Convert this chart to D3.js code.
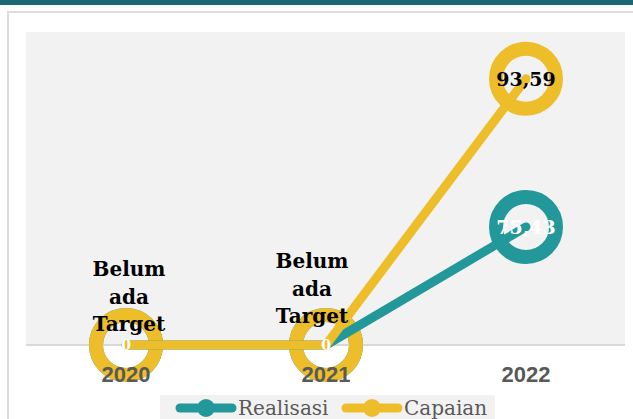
<!DOCTYPE html>
<html>
<head>
<meta charset="utf-8">
<script src="https://cdn.jsdelivr.net/npm/d3@7"></script>
<style>
  html, body { margin: 0; padding: 0; background: #ffffff; }
  svg { display: block; }
</style>
</head>
<body>
<svg id="chart" width="633" height="419"></svg>
<script>
// Chart data
const years = ["2020", "2021", "2022"];
const realisasi = [0, 0, 75.43];
const capaian = [0, 0, 93.59];
const capaianNotes = ["Belum ada Target", "Belum ada Target", null];
const seriesNames = ["Realisasi", "Capaian"];

const teal = "#23989a";
const gold = "#eebd2a";
const grey = "#595959";

const svg = d3.select("#chart");
const fmt = v => d3.format(".2f")(v).replace(".", ",").replace(/,00$/, "");

// Page frame: header strip and card
svg.append("rect").attr("x", 0).attr("y", 0).attr("width", 633).attr("height", 5).attr("fill", "#1a6775");
svg.append("rect").attr("x", 8).attr("y", 12).attr("width", 640).attr("height", 420)
  .attr("fill", "#ffffff").attr("stroke", "#dcdcdc").attr("stroke-width", 2);

// Plot area
const plot = { left: 26, right: 626, top: 32, bottom: 345 };
svg.append("rect").attr("x", plot.left).attr("y", plot.top)
  .attr("width", plot.right - plot.left - 1).attr("height", plot.bottom - plot.top)
  .attr("fill", "#f2f2f2");

const x = d3.scaleBand().domain(years).range([plot.left, plot.right]);
const cx = d => x(d) + x.bandwidth() / 2;
// two value axes (primary for Capaian, secondary for Realisasi)
const yCap = d3.scaleLinear().domain([0, 110]).range([plot.bottom, plot.top]);
const yReal = d3.scaleLinear().domain([0, 200]).range([plot.bottom, plot.top]);

// Category axis line
const xAxis = svg.append("g").attr("transform", `translate(0,${plot.bottom})`)
  .call(d3.axisBottom(x).tickSize(0).tickPadding(0));
xAxis.select(".domain").attr("stroke", "#d9d9d9").attr("stroke-width", 2)
  .attr("d", `M${plot.left},0H${plot.right - 1}`);
xAxis.selectAll(".tick text").remove();

const realPts = years.map((d, i) => [cx(d), yReal(realisasi[i])]);
const capPts = years.map((d, i) => [cx(d), yCap(capaian[i])]);

// Markers: hollow rings
const ringR = 30, ringW = 14;
svg.append("g").selectAll("circle").data(realPts).join("circle")
  .attr("cx", d => d[0]).attr("cy", d => d[1]).attr("r", ringR)
  .attr("fill", "none").attr("stroke", teal).attr("stroke-width", ringW);
svg.append("g").selectAll("circle").data(capPts).join("circle")
  .attr("cx", d => d[0]).attr("cy", d => d[1]).attr("r", ringR)
  .attr("fill", "none").attr("stroke", gold).attr("stroke-width", ringW);

// Lines
const line = d3.line();
svg.append("path").attr("d", line(realPts)).attr("fill", "none")
  .attr("stroke", teal).attr("stroke-width", 9).attr("stroke-linecap", "round").attr("stroke-linejoin", "round");
svg.append("path").attr("d", line(capPts)).attr("fill", "none")
  .attr("stroke", gold).attr("stroke-width", 9).attr("stroke-linecap", "round").attr("stroke-linejoin", "round");

// Year labels, drawn above the markers
const yearLabels = svg.append("g").attr("transform", `translate(0,${plot.bottom})`)
  .call(d3.axisBottom(x).tickSize(0).tickPadding(0));
yearLabels.select(".domain").remove();
yearLabels.selectAll(".tick text")
  .attr("y", 37).attr("dy", null)
  .attr("font-family", "Liberation Sans, Arial, sans-serif").attr("font-weight", "bold")
  .attr("font-size", 22).attr("fill", grey);

// Value labels
const serif = "DejaVu Serif, serif";
svg.append("g").selectAll("text").data(realisasi).join("text")
  .attr("x", (d, i) => cx(years[i])).attr("y", (d, i) => yReal(d))
  .attr("dy", d => d === 0 ? 5 : 7)
  .attr("text-anchor", "middle").attr("font-family", serif).attr("font-weight", "bold")
  .attr("font-size", d => d === 0 ? 14 : 19).attr("fill", "#ffffff")
  .text(d => fmt(d));

svg.append("g").selectAll("text").data(capaian.filter((d, i) => !capaianNotes[i])).join("text")
  .attr("x", cx(years[2])).attr("y", d => yCap(d)).attr("dy", 7)
  .attr("text-anchor", "middle").attr("font-family", serif).attr("font-weight", "bold")
  .attr("font-size", 19).attr("fill", "#000000")
  .text(d => fmt(d));

// Notes where no target exists yet
const noteShift = [{ dx: 3, dy: -69 }, { dx: -14, dy: -77 }];
years.forEach((yr, i) => {
  if (!capaianNotes[i]) return;
  const t = svg.append("text")
    .attr("x", cx(yr) + noteShift[i].dx).attr("y", yCap(capaian[i]) + noteShift[i].dy)
    .attr("text-anchor", "middle").attr("font-family", serif).attr("font-weight", "bold")
    .attr("font-size", 20).attr("fill", "#000000");
  capaianNotes[i].split(" ").forEach((w, k) => {
    t.append("tspan").attr("x", cx(yr) + noteShift[i].dx).attr("dy", k === 0 ? 0 : 27.5).text(w);
  });
});

// Legend
const legend = svg.append("g");
legend.append("rect").attr("x", 160).attr("y", 395).attr("width", 335).attr("height", 30).attr("fill", "#f2f2f2");
const legendItems = [
  { name: seriesNames[0], color: teal, x0: 176 },
  { name: seriesNames[1], color: gold, x0: 342 }
];
legendItems.forEach(it => {
  legend.append("line").attr("x1", it.x0 + 4).attr("x2", it.x0 + 56).attr("y1", 408).attr("y2", 408)
    .attr("stroke", it.color).attr("stroke-width", 9).attr("stroke-linecap", "round");
  legend.append("circle").attr("cx", it.x0 + 30).attr("cy", 408).attr("r", 9).attr("fill", it.color);
  legend.append("text").attr("x", it.x0 + 62).attr("y", 415)
    .attr("font-family", serif).attr("font-size", 20).attr("fill", grey).text(it.name);
});
</script>
</body>
</html>
